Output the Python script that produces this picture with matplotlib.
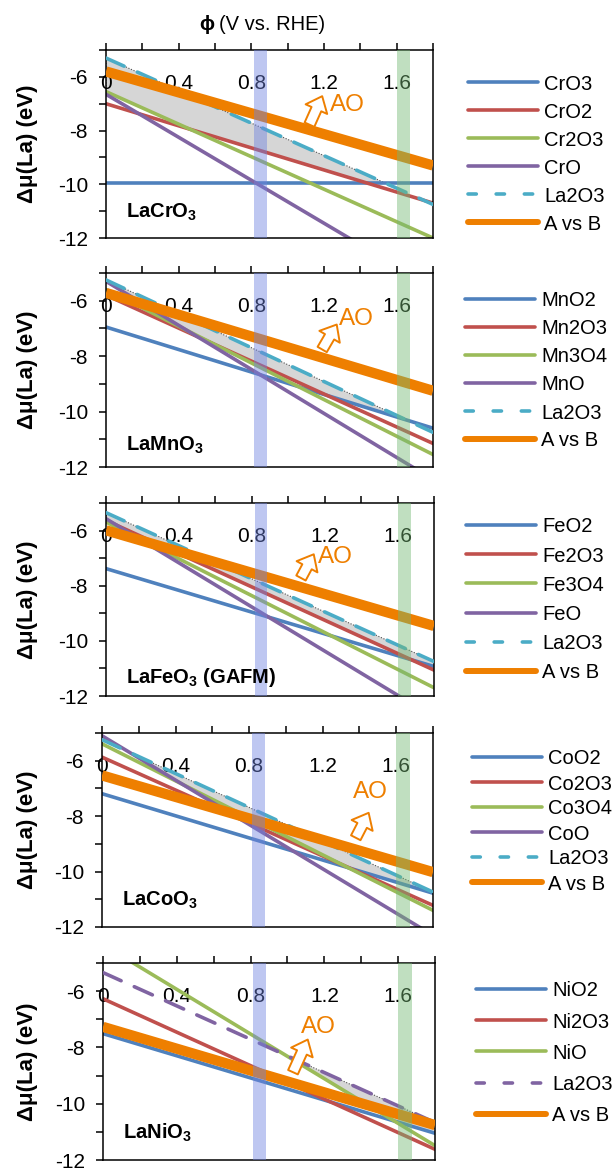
import numpy as np
import matplotlib.pyplot as plt
from matplotlib.lines import Line2D

plt.rcParams['font.family'] = ['Liberation Sans', 'DejaVu Sans']
plt.rcParams['mathtext.fontset'] = 'custom'
plt.rcParams['mathtext.rm'] = 'Liberation Sans'
plt.rcParams['mathtext.bf'] = 'Liberation Sans:bold'

PHI_MAX = 1.8

# delta mu(La) in eV at phi = 0 and at phi = 1.8 V vs. RHE
CR_LABELS = ["CrO3", "CrO2", "Cr2O3", "CrO", "La2O3", "A vs B"]
CR_AT_0 = [-9.95, -7.0, -6.55, -6.65, -5.3, -5.8]
CR_AT_END = [-9.95, -10.7, -12.0, -13.85, -10.75, -9.3]

MN_LABELS = ["MnO2", "Mn2O3", "Mn3O4", "MnO", "La2O3", "A vs B"]
MN_AT_0 = [-6.95, -5.8, -5.6, -5.3, -5.25, -5.72]
MN_AT_END = [-10.6, -11.15, -11.55, -12.45, -10.75, -9.25]

FE_LABELS = ["FeO2", "Fe2O3", "Fe3O4", "FeO", "La2O3", "A vs B"]
FE_AT_0 = [-7.38, -5.63, -5.69, -5.57, -5.35, -5.99]
FE_AT_END = [-10.93, -11.06, -11.7, -12.77, -10.75, -9.46]

CO_LABELS = ["CoO2", "Co2O3", "Co3O4", "CoO", "La2O3", "A vs B"]
CO_AT_0 = [-7.19, -5.87, -5.39, -5.1, -5.24, -6.53]
CO_AT_END = [-10.78, -11.22, -11.4, -12.3, -10.74, -10.02]

NI_LABELS = ["NiO2", "Ni2O3", "NiO", "La2O3", "A vs B"]
NI_AT_0 = [-7.51, -6.27, -4.35, -5.34, -7.27]
NI_AT_END = [-11.05, -11.62, -11.49, -10.67, -10.76]

COMPOUNDS = [r"LaCrO$_\mathbf{3}$", r"LaMnO$_\mathbf{3}$",
             r"LaFeO$_\mathbf{3}$ (GAFM)", r"LaCoO$_\mathbf{3}$",
             r"LaNiO$_\mathbf{3}$"]

BLUE = "#4F81BD"
RED = "#C0504D"
GREEN = "#9BBB59"
PURPLE = "#8064A2"
CYAN = "#4BACC6"
ORANGE = "#EE7F00"

panels = [
    (CR_LABELS, CR_AT_0, CR_AT_END, [BLUE, RED, GREEN, PURPLE, CYAN, ORANGE]),
    (MN_LABELS, MN_AT_0, MN_AT_END, [BLUE, RED, GREEN, PURPLE, CYAN, ORANGE]),
    (FE_LABELS, FE_AT_0, FE_AT_END, [BLUE, RED, GREEN, PURPLE, CYAN, ORANGE]),
    (CO_LABELS, CO_AT_0, CO_AT_END, [BLUE, RED, GREEN, PURPLE, CYAN, ORANGE]),
    (NI_LABELS, NI_AT_0, NI_AT_END, [BLUE, RED, GREEN, PURPLE, ORANGE]),
]

W, H = 613, 1169
# axes boxes in pixels: left, right, top, bottom
boxes = [(106, 433, 50, 238), (106, 433, 273, 467), (106, 434, 503, 696),
         (102, 433, 733, 927), (103, 435, 963, 1160)]
# legend: key line left edge, first row y, row step (pixels)
legend_at = [(468, 82, 28), (465, 299, 28), (466, 525, 29.2),
             (472, 757, 25), (476, 989, 31.2)]
label_y = [0.134, 0.111, 0.094, 0.137, 0.136]
# AO arrow: tail, head, text position (data units)
ao = [((1.12, -7.78), (1.19, -6.72), (1.33, -7.05)),
      ((1.19, -7.76), (1.27, -6.86), (1.38, -6.65)),
      ((1.07, -7.72), (1.14, -6.86), (1.26, -6.95)),
      ((1.38, -8.78), (1.45, -7.88), (1.46, -7.13)),
      ((1.03, -8.88), (1.11, -7.72), (1.17, -7.27))]


def px(x, y):
    return x / W, 1 - y / H


fig = plt.figure(figsize=(W / 100, H / 100), dpi=100)
phi = np.linspace(0, PHI_MAX, 600)

for k, (labels, y0, y1, colors) in enumerate(panels):
    l, r, t, b = boxes[k]
    ax = fig.add_axes([l / W, 1 - b / H, (r - l) / W, (b - t) / H])

    la_idx = labels.index("La2O3")
    oxide_idx = [i for i, n in enumerate(labels) if n not in ("La2O3", "A vs B")]

    # stability window: below La2O3, above every B-site oxide
    upper = np.interp(phi, [0, PHI_MAX], [y0[la_idx], y1[la_idx]])
    lower = np.max([np.interp(phi, [0, PHI_MAX], [y0[i], y1[i]]) for i in oxide_idx], axis=0)
    ax.fill_between(phi, lower, upper, where=upper > lower, interpolate=True,
                    facecolor="#d6d6d6", edgecolor="#505050", linestyle=(0, (1, 1.5)),
                    linewidth=0.8, zorder=1)

    for i, name in enumerate(labels):
        c = colors[i]
        if name == "A vs B":
            ax.plot([0, PHI_MAX], [y0[i], y1[i]], color=c, lw=7.4,
                    solid_capstyle="butt", zorder=4)
        elif name == "La2O3":
            ax.plot([0, PHI_MAX], [y0[i], y1[i]], color=c, lw=2.6,
                    dashes=(5.5, 4), dash_capstyle="round", zorder=3)
        else:
            ax.plot([0, PHI_MAX], [y0[i], y1[i]], color=c, lw=2.6, zorder=2)

    # potential windows
    ax.axvspan(0.815, 0.885, color="#6f83e0", alpha=0.45, lw=0, zorder=5)
    ax.axvspan(1.60, 1.675, color="#74b874", alpha=0.45, lw=0, zorder=5)

    tail, head, txt = ao[k]
    ax.annotate("", xy=head, xytext=tail,
                arrowprops=dict(arrowstyle="simple,head_length=0.6,head_width=1.0,tail_width=0.45",
                                fc="white", ec=ORANGE, lw=1.4, shrinkA=0, shrinkB=0,
                                mutation_scale=17), zorder=6)
    ax.text(txt[0], txt[1], "AO", color=ORANGE, fontsize=17.5, ha="center", va="center", zorder=6)

    ax.text(0.061, label_y[k], COMPOUNDS[k], transform=ax.transAxes, fontsize=14.5,
            fontweight="bold", ha="left", va="center", zorder=6)

    ax.set_xlim(0, PHI_MAX)
    ax.set_ylim(-12, -5)
    ax.set_xticks(np.arange(0, 1.61, 0.4))
    ax.set_xticklabels(["0", "0.4", "0.8", "1.2", "1.6"])
    ax.set_xticks(np.arange(0.2, 1.81, 0.4), minor=True)
    ax.set_yticks([-12, -10, -8, -6])
    ax.set_yticklabels(["-12", "-10", "-8", "-6"])
    ax.set_yticks([-11, -9, -7, -5], minor=True)
    ax.tick_params(axis="x", which="both", top=True, bottom=False, labeltop=True,
                   labelbottom=False, direction="out", length=5, width=1.1, labelsize=15,
                   pad=-36)
    ax.tick_params(axis="y", which="both", direction="out", length=5, width=1.1,
                   labelsize=15, pad=8)
    for s in ax.spines.values():
        s.set_linewidth(1.1)

    fig.text(28 / W, 1 - (t + b) / 2 / H, "Δμ(La) (eV)", rotation=90, fontsize=16,
             fontweight="bold", ha="center", va="center")

    # legend keys
    lx, ly, step = legend_at[k]
    for i, name in enumerate(labels):
        yy = ly + i * step
        (x0, fy), (x1, _) = px(lx, yy), px(lx + 70, yy)
        if name == "A vs B":
            key = Line2D([x0, x1], [fy, fy], color=colors[i], lw=4.3, solid_capstyle="round")
        elif name == "La2O3":
            key = Line2D([x0, x1], [fy, fy], color=colors[i], lw=2.6, dashes=(2.3, 5.5),
                         dash_capstyle="round")
        else:
            key = Line2D([x0, x1], [fy, fy], color=colors[i], lw=2.6, solid_capstyle="round")
        fig.add_artist(key)
        fig.text(*px(lx + 76, yy), name, fontsize=14.5, ha="left", va="center_baseline")

fig.text(214 / W, 1 - 25 / H, "ϕ", fontsize=14.5, fontweight="bold", ha="right", va="center")
fig.text(219 / W, 1 - 25 / H, "(V vs. RHE)", fontsize=14.5, ha="left", va="center")

fig.savefig("out.png", dpi=100)
